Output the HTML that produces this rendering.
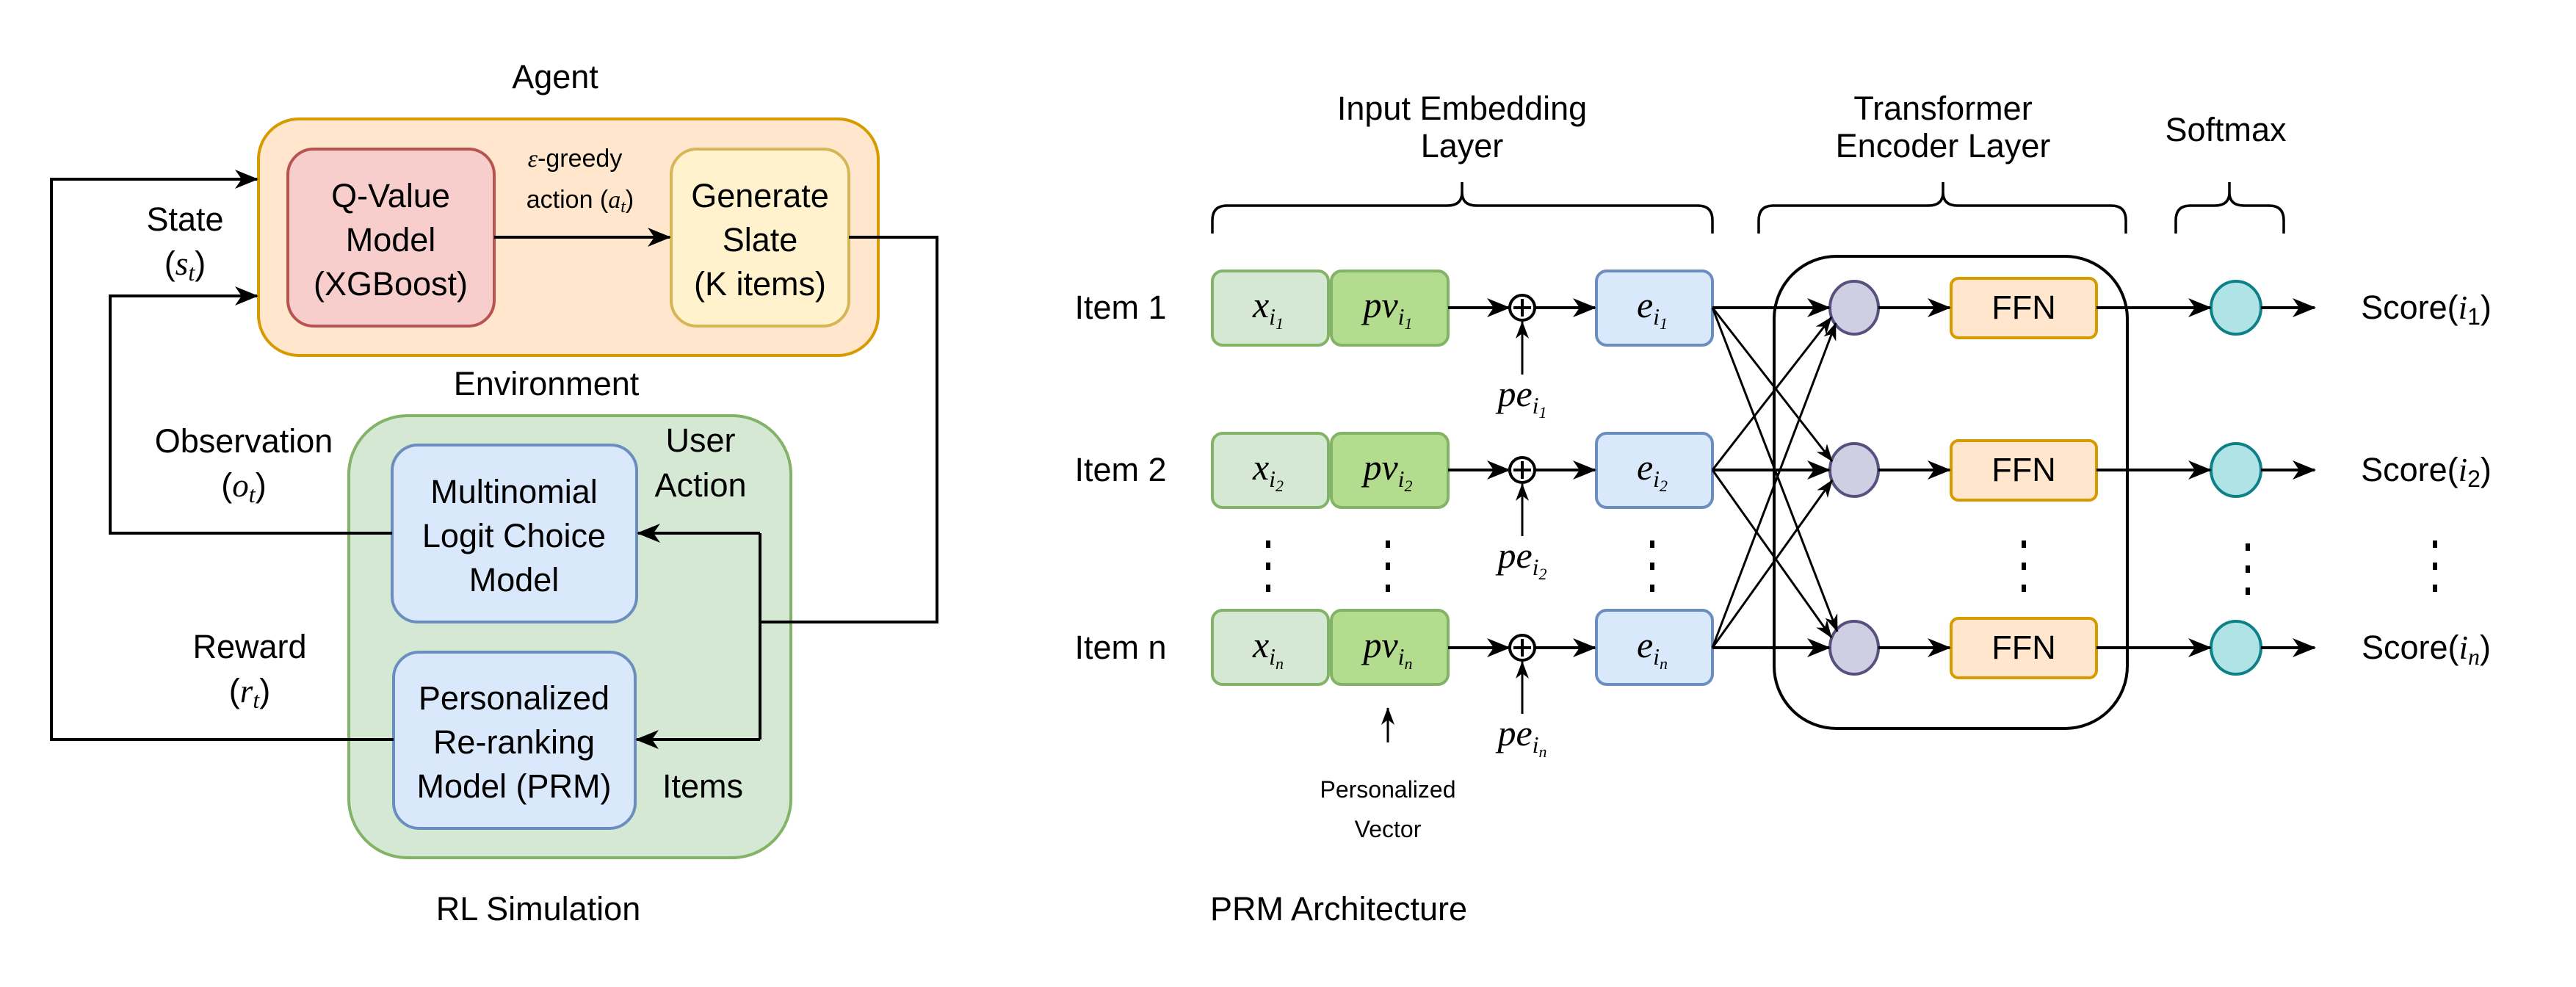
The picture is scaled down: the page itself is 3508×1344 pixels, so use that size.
<!DOCTYPE html>
<html><head><meta charset="utf-8"><style>
html,body{margin:0;padding:0;background:#fff}
svg{display:block}
text{font-family:"Liberation Sans",sans-serif;fill:#000}
.m{font-family:"Liberation Serif",serif;font-style:italic}
</style></head><body>
<svg width="3508" height="1344" viewBox="0 0 3508 1344" xmlns="http://www.w3.org/2000/svg">
<defs>
<marker id="A" markerWidth="32" markerHeight="32" refX="30" refY="16" orient="auto" markerUnits="userSpaceOnUse" viewBox="0 0 32 32"><path d="M0,3 L32,16 L0,29 L9,16 Z" fill="#000"/></marker>
<marker id="s" markerWidth="24" markerHeight="24" refX="23" refY="12" orient="auto" markerUnits="userSpaceOnUse" viewBox="0 0 24 24"><path d="M0,3 L24,12 L0,21 L7,12 Z" fill="#000"/></marker>
</defs>
<g font-size="45" text-anchor="middle">
<!-- LEFT -->
<text x="756" y="120">Agent</text>
<rect x="352" y="162" width="844" height="322" rx="55" fill="#ffe6cc" stroke="#d79b00" stroke-width="4"/>
<rect x="392" y="203" width="281" height="241" rx="35" fill="#f8cecc" stroke="#b85450" stroke-width="4"/>
<text x="532" y="282">Q-Value</text><text x="532" y="342">Model</text><text x="532" y="402">(XGBoost)</text>
<rect x="914" y="203" width="242" height="241" rx="35" fill="#fff2cc" stroke="#d6b656" stroke-width="4"/>
<text x="1035" y="282">Generate</text><text x="1035" y="342">Slate</text><text x="1035" y="402">(K items)</text>
<line x1="673" y1="323" x2="912" y2="323" stroke="#000" stroke-width="4" marker-end="url(#A)"/>
<text x="783" y="227" font-size="34"><tspan class="m">ε</tspan>-greedy</text>
<text x="790" y="283" font-size="34">action (<tspan class="m">a</tspan><tspan class="m" font-size="24" dy="6">t</tspan><tspan dy="-6">)</tspan></text>
<text x="744" y="538">Environment</text>
<rect x="475" y="566" width="602" height="602" rx="80" fill="#d5e8d4" stroke="#82b366" stroke-width="4"/>
<rect x="534" y="606" width="333" height="241" rx="35" fill="#dae8fc" stroke="#6c8ebf" stroke-width="4"/>
<text x="700" y="685">Multinomial</text><text x="700" y="745">Logit Choice</text><text x="700" y="805">Model</text>
<rect x="536" y="888" width="329" height="240" rx="35" fill="#dae8fc" stroke="#6c8ebf" stroke-width="4"/>
<text x="700" y="966">Personalized</text><text x="700" y="1026">Re-ranking</text><text x="700" y="1086">Model (PRM)</text>
<polyline points="1156,323 1276,323 1276,847 1035,847" fill="none" stroke="#000" stroke-width="4"/>
<polyline points="1035,726 1035,1007" fill="none" stroke="#000" stroke-width="4"/>
<line x1="1035" y1="726" x2="869" y2="726" stroke="#000" stroke-width="4" marker-end="url(#A)"/>
<line x1="1035" y1="1007" x2="867" y2="1007" stroke="#000" stroke-width="4" marker-end="url(#A)"/>
<polyline points="536,1007 70,1007 70,244 350,244" fill="none" stroke="#000" stroke-width="4" marker-end="url(#A)"/>
<polyline points="534,726 150,726 150,403 350,403" fill="none" stroke="#000" stroke-width="4" marker-end="url(#A)"/>
<text x="252" y="314">State</text>
<text x="252" y="374">(<tspan class="m">s</tspan><tspan class="m" font-size="32" dy="8">t</tspan><tspan dy="-8">)</tspan></text>
<text x="332" y="616">Observation</text>
<text x="332" y="676">(<tspan class="m">o</tspan><tspan class="m" font-size="32" dy="8">t</tspan><tspan dy="-8">)</tspan></text>
<text x="340" y="896">Reward</text>
<text x="340" y="956">(<tspan class="m">r</tspan><tspan class="m" font-size="32" dy="8">t</tspan><tspan dy="-8">)</tspan></text>
<text x="954" y="615">User</text><text x="954" y="676">Action</text>
<text x="957" y="1086">Items</text>
<text x="733" y="1253">RL Simulation</text>

<!-- RIGHT -->
<text x="1991" y="163">Input Embedding</text><text x="1991" y="214">Layer</text>
<text x="2646" y="163">Transformer</text><text x="2646" y="214">Encoder Layer</text>
<text x="3031" y="192">Softmax</text>
<g fill="none" stroke="#000" stroke-width="3.5">
<path d="M1651,318 V300 Q1651,280 1671,280 H1971 Q1991,280 1991,262 V248 V262 Q1991,280 2011,280 H2312 Q2332,280 2332,300 V318"/>
<path d="M2395,318 V300 Q2395,280 2415,280 H2626 Q2646,280 2646,262 V248 V262 Q2646,280 2666,280 H2875 Q2895,280 2895,300 V318"/>
<path d="M2963,318 V300 Q2963,280 2983,280 H3016 Q3036,280 3036,262 V248 V262 Q3036,280 3056,280 H3090 Q3110,280 3110,300 V318"/>
</g>
<rect x="2416" y="349" width="481" height="643" rx="85" fill="none" stroke="#000" stroke-width="4"/>
<g stroke-width="4">
<rect x="1651" y="369" width="158" height="101" rx="14" fill="#d5e8d4" stroke="#82b366"/>
<rect x="1813" y="369" width="159" height="101" rx="14" fill="#b3dc8e" stroke="#82b366"/>
<rect x="2174" y="369" width="158" height="101" rx="14" fill="#dae8fc" stroke="#6c8ebf"/>
<rect x="2174" y="590" width="158" height="101" rx="14" fill="#dae8fc" stroke="#6c8ebf"/>
<rect x="1651" y="590" width="158" height="101" rx="14" fill="#d5e8d4" stroke="#82b366"/>
<rect x="1813" y="590" width="159" height="101" rx="14" fill="#b3dc8e" stroke="#82b366"/>
<rect x="1651" y="831" width="158" height="101" rx="14" fill="#d5e8d4" stroke="#82b366"/>
<rect x="1813" y="831" width="159" height="101" rx="14" fill="#b3dc8e" stroke="#82b366"/>
<rect x="2174" y="831" width="158" height="101" rx="14" fill="#dae8fc" stroke="#6c8ebf"/>
<rect x="2657" y="379" width="198" height="81" rx="10" fill="#ffe6cc" stroke="#d79b00"/>
<rect x="2657" y="600" width="198" height="81" rx="10" fill="#ffe6cc" stroke="#d79b00"/>
<rect x="2657" y="842" width="198" height="81" rx="10" fill="#ffe6cc" stroke="#d79b00"/>
<ellipse cx="2525" cy="419" rx="33" ry="36" fill="#d0cee2" stroke="#56517e"/>
<ellipse cx="2525" cy="640" rx="33" ry="36" fill="#d0cee2" stroke="#56517e"/>
<ellipse cx="2525" cy="882" rx="33" ry="36" fill="#d0cee2" stroke="#56517e"/>
<ellipse cx="3045" cy="419" rx="34" ry="36" fill="#b0e3e6" stroke="#0e8088"/>
<ellipse cx="3045" cy="640" rx="34" ry="36" fill="#b0e3e6" stroke="#0e8088"/>
<ellipse cx="3045" cy="882" rx="34" ry="36" fill="#b0e3e6" stroke="#0e8088"/>
</g>
<g stroke="#000" stroke-width="4" fill="none">
<circle cx="2073" cy="419" r="17"/><path d="M2073,407 V431 M2061,419 H2085"/>
<circle cx="2073" cy="640" r="17"/><path d="M2073,628 V652 M2061,640 H2085"/>
<circle cx="2073" cy="882" r="17"/><path d="M2073,870 V894 M2061,882 H2085"/>
</g>
<g stroke="#000" stroke-width="4" marker-end="url(#A)">
<line x1="1972" y1="419" x2="2055" y2="419"/><line x1="2090" y1="419" x2="2172" y2="419"/>
<line x1="1972" y1="640" x2="2055" y2="640"/><line x1="2090" y1="640" x2="2172" y2="640"/>
<line x1="1972" y1="882" x2="2055" y2="882"/><line x1="2090" y1="882" x2="2172" y2="882"/>
<line x1="2332" y1="419" x2="2491" y2="419"/><line x1="2332" y1="640" x2="2491" y2="640"/><line x1="2332" y1="882" x2="2491" y2="882"/>
<line x1="2558" y1="419" x2="2655" y2="419"/><line x1="2558" y1="640" x2="2655" y2="640"/><line x1="2558" y1="882" x2="2655" y2="882"/>
<line x1="2855" y1="419" x2="3010" y2="419"/><line x1="2855" y1="640" x2="3010" y2="640"/><line x1="2855" y1="882" x2="3010" y2="882"/>
<line x1="3079" y1="419" x2="3152" y2="419"/><line x1="3079" y1="640" x2="3152" y2="640"/><line x1="3079" y1="882" x2="3152" y2="882"/>
</g>
<g stroke="#000" stroke-width="3" marker-end="url(#s)">
<line x1="2332" y1="419" x2="2495" y2="628"/>
<line x1="2332" y1="419" x2="2502" y2="860"/>
<line x1="2332" y1="640" x2="2494" y2="432"/>
<line x1="2332" y1="640" x2="2494" y2="868"/>
<line x1="2332" y1="882" x2="2500" y2="440"/>
<line x1="2332" y1="882" x2="2495" y2="654"/>
<line x1="2073" y1="510" x2="2073" y2="438"/>
<line x1="2073" y1="730" x2="2073" y2="659"/>
<line x1="2073" y1="972" x2="2073" y2="901"/>
<line x1="1890" y1="1011" x2="1890" y2="964"/>
</g>
<g font-size="45">
<text x="1526" y="434">Item 1</text><text x="1526" y="655">Item 2</text><text x="1526" y="897">Item n</text>
<text x="3304" y="434">Score(<tspan class="m">i</tspan><tspan font-size="32" dy="8">1</tspan><tspan dy="-8">)</tspan></text>
<text x="3304" y="655">Score(<tspan class="m">i</tspan><tspan font-size="32" dy="8">2</tspan><tspan dy="-8">)</tspan></text>
<text x="3304" y="897">Score(<tspan class="m">i</tspan><tspan class="m" font-size="32" dy="8">n</tspan><tspan dy="-8">)</tspan></text>
<text x="2756" y="434">FFN</text><text x="2756" y="655">FFN</text><text x="2756" y="897">FFN</text>
</g>
<g font-size="50" class="m">
<text x="1727" y="432" class="m">x<tspan font-size="32" dy="10">i</tspan><tspan font-size="22" dy="6">1</tspan></text>
<text x="1890" y="432" class="m">pv<tspan font-size="32" dy="10">i</tspan><tspan font-size="22" dy="6">1</tspan></text>
<text x="2250" y="432" class="m">e<tspan font-size="32" dy="10">i</tspan><tspan font-size="22" dy="6">1</tspan></text>
<text x="1727" y="653" class="m">x<tspan font-size="32" dy="10">i</tspan><tspan font-size="22" dy="6">2</tspan></text>
<text x="1890" y="653" class="m">pv<tspan font-size="32" dy="10">i</tspan><tspan font-size="22" dy="6">2</tspan></text>
<text x="2250" y="653" class="m">e<tspan font-size="32" dy="10">i</tspan><tspan font-size="22" dy="6">2</tspan></text>
<text x="1727" y="895" class="m">x<tspan font-size="32" dy="10">i</tspan><tspan font-size="22" dy="6">n</tspan></text>
<text x="1890" y="895" class="m">pv<tspan font-size="32" dy="10">i</tspan><tspan font-size="22" dy="6">n</tspan></text>
<text x="2250" y="895" class="m">e<tspan font-size="32" dy="10">i</tspan><tspan font-size="22" dy="6">n</tspan></text>
<text x="2073" y="553" class="m">pe<tspan font-size="32" dy="10">i</tspan><tspan font-size="22" dy="6">1</tspan></text>
<text x="2073" y="773" class="m">pe<tspan font-size="32" dy="10">i</tspan><tspan font-size="22" dy="6">2</tspan></text>
<text x="2073" y="1015" class="m">pe<tspan font-size="32" dy="10">i</tspan><tspan font-size="22" dy="6">n</tspan></text>
</g>
<g fill="#000">
<rect x="1724" y="736" width="6" height="10"/><rect x="1724" y="766" width="6" height="10"/><rect x="1724" y="796" width="6" height="10"/>
<rect x="1887" y="736" width="6" height="10"/><rect x="1887" y="766" width="6" height="10"/><rect x="1887" y="796" width="6" height="10"/>
<rect x="2247" y="736" width="6" height="10"/><rect x="2247" y="766" width="6" height="10"/><rect x="2247" y="796" width="6" height="10"/>
<rect x="2753" y="736" width="6" height="10"/><rect x="2753" y="766" width="6" height="10"/><rect x="2753" y="796" width="6" height="10"/>
<rect x="3058" y="740" width="6" height="10"/><rect x="3058" y="770" width="6" height="10"/><rect x="3058" y="800" width="6" height="10"/>
<rect x="3313" y="736" width="6" height="10"/><rect x="3313" y="766" width="6" height="10"/><rect x="3313" y="796" width="6" height="10"/>
</g>
<text x="1890" y="1086" font-size="32">Personalized</text>
<text x="1890" y="1140" font-size="32">Vector</text>
<text x="1823" y="1253">PRM Architecture</text>
</g>
</svg>
</body></html>
